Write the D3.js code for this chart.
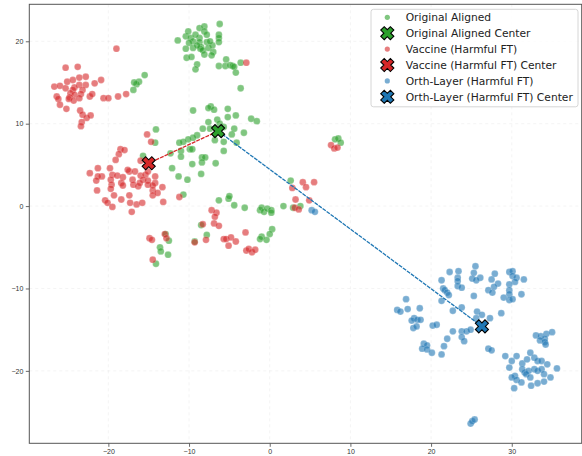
<!DOCTYPE html>
<html>
<head>
<meta charset="utf-8">
<script src="https://cdnjs.cloudflare.com/ajax/libs/d3/7.8.5/d3.min.js"></script>
<style>
  body { margin: 0; background: #fff; }
  svg { display: block; font-family: "DejaVu Sans", sans-serif; }
  .axis text { fill: #333; font-size: 7px; }
  .axis line { stroke: #444; stroke-width: 0.8; }
  .axis path { display: none; }
  .grid line { stroke: #ccc; stroke-opacity: 0.35; stroke-width: 0.6; stroke-dasharray: 3,3; }
</style>
</head>
<body>
<div id="chart"></div>
<script>
// t-SNE embeddings
var origAligned = [
  [-6.2,22.1],[-11.4,20.1],[-10.4,20.6],[-10.1,21.2],[-8.7,21.6],[-8.1,21.8],[-8.1,21.2],[-7.8,20.8],[-6.3,20.8],[-6.3,20.4],
  [-6.3,19.9],[-9.8,20.4],[-9.5,20.0],[-10.0,19.8],[-8.7,20.4],[-8.7,19.9],[-7.8,19.9],[-8.5,19.3],[-8.6,19.1],[-8.3,18.9],
  [-7.6,19.2],[-7.1,19.5],[-9.5,19.2],[-10.4,19.1],[-7.0,18.7],[-7.2,18.3],[-8.1,18.4],[-10.3,18.0],[-9.7,18.1],[-5.4,17.8],
  [-9.0,17.2],[-9.2,16.6],[-6.3,17.0],[-5.5,17.0],[-4.9,17.1],[-4.6,17.0],[-4.4,16.9],[-3.6,17.4],[-4.2,16.2],[-3.6,14.3],
  [-9.2,20.8],[-7.4,20.0],[-9.0,19.5],
  [-15.5,15.9],[-16.2,15.1],[-16.5,14.8],[-16.8,15.0],[-16.9,14.1],[-14.1,9.3],[-14.2,7.7],
  [-7.3,12.1],[-7.6,11.9],[-6.9,11.7],[-9.5,11.6],[-5.2,11.8],[-4.2,11.0],[-2.3,10.6],[-1.6,10.3],[-5.2,10.8],[-7.6,10.2],
  [-6.5,10.5],[-6.2,10.0],[-8.3,9.4],[-7.4,9.4],[-5.7,9.6],[-4.4,9.4],[-4.7,8.7],[-3.2,8.9],[-4.1,7.7],[-5.7,7.8],
  [-6.8,8.0],[-5.7,6.7],[-9.0,8.6],[-9.5,8.3],[-10.1,8.1],[-10.7,7.8],[-11.2,7.7],[-9.9,6.9],[-9.6,6.9],[-11.0,6.7],
  [-11.0,6.0],[-12.3,6.4],[-15.7,6.1],[-8.4,5.9],[-8.0,5.9],[-8.4,5.3],[-9.6,5.1],[-6.7,5.2],[-8.5,3.9],[-12.1,4.6],
  [-11.3,3.6],[-10.2,3.2],[-10.7,1.4],[-6.3,0.7],[-5.1,0.9],[-5.0,1.2],[-4.4,0.1],[-3.1,-0.2],[-1.2,-0.5],[-1.0,-0.2],
  [-0.7,-0.7],[-0.3,-0.3],[0.2,-0.5],[0.2,-0.8],[1.7,0.0],[2.6,3.1],[2.9,-0.2],[3.8,0.0],[8.1,8.1],[8.5,8.2],[8.8,7.7],
  [-8.5,-2.3],[-7.8,-3.5],[-12.9,-3.4],[-12.5,-4.2],[-13.6,-5.0],[-13.5,-5.5],[-12.6,-5.9],[-14.1,-7.0],[-9.3,-4.3],
  [0.3,-2.8],[0.0,-3.4],[-1.0,-3.7],[-1.2,-4.0],[-0.4,-4.1]
];

var vaccine = [
  [-25.3,16.8],[-23.8,16.9],[-26.7,14.5],[-26.0,14.6],[-25.3,14.3],[-25.1,15.1],[-24.4,15.3],[-23.6,15.6],[-22.8,15.7],[-20.9,15.3],
  [-21.7,14.9],[-22.8,14.7],[-23.6,14.7],[-24.2,14.4],[-23.2,14.1],[-23.4,13.6],[-24.4,14.1],[-24.7,13.7],[-24.2,13.5],[-24.8,13.2],
  [-26.4,13.3],[-26.2,13.0],[-24.9,13.0],[-24.3,12.8],[-23.6,13.1],[-22.3,13.3],[-22.0,13.6],[-26.0,12.3],[-25.2,11.8],[-23.5,11.6],
  [-23.2,11.1],[-22.7,10.7],[-22.2,11.0],[-23.3,10.2],[-23.4,9.7],[-20.6,13.1],[-20.0,13.1],[-18.8,13.3],[-17.8,13.6],[-19.0,19.1],
  [-2.9,17.4],[-15.2,8.7],[-14.7,7.8],
  [-18.5,6.9],[-18.0,6.8],[-18.7,6.3],[-19.1,5.6],[-22.3,4.0],[-21.3,4.6],[-20.8,3.6],[-21.3,3.6],[-19.8,4.6],[-19.5,3.8],
  [-18.9,3.7],[-18.2,3.5],[-17.4,4.2],[-16.7,4.2],[-16.0,3.7],[-15.4,3.8],[-15.1,4.2],[-14.2,3.6],[-16.0,5.5],[-17.0,3.2],
  [-16.9,2.6],[-16.3,2.4],[-15.7,3.2],[-15.1,3.1],[-19.7,3.2],[-19.6,2.6],[-19.7,2.1],[-18.4,2.8],[-18.2,2.5],[-21.5,3.1],
  [-21.4,1.9],[-19.3,1.3],[-20.4,0.7],[-20.1,0.4],[-19.5,-0.1],[-18.4,0.8],[-17.4,1.3],[-17.3,0.4],[-16.5,0.2],[-15.8,0.4],
  [-17.1,-0.7],[-14.5,1.9],[-14.5,1.3],[-13.9,1.6],[-13.3,2.3],[-13.2,0.5],[-14.2,2.8],[-15.1,2.6],[-11.2,1.1],[-17.6,4.4],
  [-16.1,2.8],[-14.5,2.5],
  [4.1,2.9],[5.5,2.9],[4.5,2.3],[2.8,2.2],[3.2,0.8],[4.9,0.7],[3.1,-0.2],[3.6,-0.4],[7.6,7.4],[8.0,7.0],[8.4,7.1],
  [-7.2,-0.5],[-6.6,-0.8],[-6.8,-1.3],[-6.9,-2.1],[-6.3,-2.4],[-8.3,-2.2],[-14.9,-3.9],[-14.6,-4.1],[-13.0,-3.4],[-12.8,-3.9],
  [-14.5,-6.5],[-9.3,-4.4],[-7.9,-4.1],[-5.7,-4.0],[-5.4,-4.0],[-4.8,-3.8],[-4.2,-4.3],[-5.1,-4.8],[-3.0,-3.2],[-2.9,-5.4],
  [-2.6,-5.2],[-2.2,-5.6],[-1.8,-5.3]
];

var orthLayer = [
  [25.5,-7.3],[23.4,-7.9],[22.3,-8.0],[25.3,-8.1],[26.1,-8.7],[25.1,-8.8],[25.6,-9.0],[23.3,-8.7],[23.3,-9.1],[21.3,-9.0],
  [23.3,-9.7],[23.8,-9.9],[21.5,-10.0],[21.7,-10.2],[22.0,-10.5],[22.2,-10.8],[21.3,-11.5],[25.3,-10.9],[27.9,-8.2],[27.5,-8.9],
  [28.3,-9.4],[27.8,-9.8],[27.1,-10.2],[27.6,-10.5],[29.7,-8.0],[30.1,-7.9],[30.1,-8.5],[30.6,-8.7],[31.5,-8.9],[30.4,-9.2],
  [29.7,-9.5],[29.7,-10.2],[29.7,-10.7],[29.0,-11.1],[29.7,-11.4],[30.1,-11.3],[31.2,-10.7],
  [16.9,-11.3],[15.8,-12.6],[16.2,-12.8],[17.1,-12.5],[18.6,-12.4],[17.9,-13.6],[17.6,-13.9],[18.3,-13.8],[18.7,-13.8],[17.8,-14.8],
  [18.2,-14.6],[20.2,-14.5],[20.7,-14.4],[23.8,-12.3],[22.7,-12.7],[25.7,-12.8],[26.3,-13.2],[27.3,-13.6],[28.7,-13.0],[25.6,-13.6],
  [23.8,-15.2],[24.4,-15.2],[24.9,-15.0],[22.7,-15.2],[23.8,-15.9],[24.1,-16.4],[22.0,-16.1],[21.6,-17.0],[21.3,-18.0],[19.1,-16.7],
  [19.5,-16.9],[18.9,-17.3],[19.5,-17.4],[20.1,-17.8],[27.1,-17.3],[27.5,-17.5],
  [33.0,-15.7],[33.6,-15.8],[34.3,-15.5],[35.0,-15.3],[34.1,-16.1],[33.5,-16.3],[34.1,-16.5],[34.2,-16.8],
  [29.2,-18.2],[30.0,-18.8],[30.6,-18.2],[31.3,-19.1],[31.9,-18.6],[32.3,-17.8],[32.8,-18.4],[33.2,-18.8],[33.7,-18.8],[34.4,-19.2],
  [29.7,-19.6],[31.3,-19.8],[31.6,-20.2],[32.1,-20.0],[32.8,-19.8],[33.2,-20.0],[33.7,-19.8],[30.4,-20.6],[30.0,-20.8],[31.8,-20.4],
  [32.3,-20.8],[34.0,-20.4],[35.6,-19.7],[34.8,-20.8],[30.6,-21.1],[31.2,-21.4],[32.4,-21.8],[33.2,-21.5],[34.0,-21.3],[30.3,-22.1],
  [24.9,-26.4],[25.1,-26.1],[25.4,-25.9],
  [5.2,-0.5],[5.6,-0.7]
];

var centers = [
  { name: 'Original Aligned', x: -6.4, y: 9.1 },
  { name: 'Vaccine (Harmful FT)', x: -15.0, y: 5.2 },
  { name: 'Orth-Layer (Harmful FT)', x: 26.3, y: -14.6 }
];

var seriesNames = ['Original Aligned', 'Vaccine (Harmful FT)', 'Orth-Layer (Harmful FT)'];
var seriesColors = ['#2ca02c', '#d62728', '#1f77b4'];
var xTicks = [-20, -10, 0, 10, 20, 30];
var yTicks = [-20, -10, 0, 10, 20];

// Sizing
var width = 582, height = 456,
    plot = { left: 29.3, top: 4.3, right: 581.7, bottom: 443.3 };

var x = d3.scaleLinear().domain([-29.8, 38.67]).range([plot.left, plot.right]);
var y = d3.scaleLinear().domain([24.49, -28.79]).range([plot.top, plot.bottom]);

var svg = d3.select('#chart').append('svg')
  .attr('width', width)
  .attr('height', height);

// Grid
var grid = svg.append('g').attr('class', 'grid');
grid.selectAll('.gx').data(xTicks).enter().append('line')
  .attr('x1', function(d){ return x(d); }).attr('x2', function(d){ return x(d); })
  .attr('y1', plot.top).attr('y2', plot.bottom);
grid.selectAll('.gy').data(yTicks).enter().append('line')
  .attr('y1', function(d){ return y(d); }).attr('y2', function(d){ return y(d); })
  .attr('x1', plot.left).attr('x2', plot.right);

// Points
var allSets = [origAligned, vaccine, orthLayer];
allSets.forEach(function(pts, i){
  svg.append('g').selectAll('circle')
    .data(pts).enter().append('circle')
      .attr('cx', function(d){ return x(d[0]); })
      .attr('cy', function(d){ return y(d[1]); })
      .attr('r', 3.4)
      .attr('fill', seriesColors[i])
      .attr('fill-opacity', 0.6)
      .attr('stroke', '#fff')
      .attr('stroke-opacity', 0.5)
      .attr('stroke-width', 0.4);
});

// Shift lines from original center
var lines = svg.append('g');
[1, 2].forEach(function(i){
  lines.append('line')
    .attr('x1', x(centers[0].x)).attr('y1', y(centers[0].y))
    .attr('x2', x(centers[i].x)).attr('y2', y(centers[i].y))
    .attr('stroke', seriesColors[i])
    .attr('stroke-width', 1.3)
    .attr('stroke-dasharray', '4,1');
});

// filled X marker
function xMarker(s){
  var L = s, w = s * 0.36, r = Math.SQRT1_2;
  var pts = [[w,L],[w,w],[L,w],[L,-w],[w,-w],[w,-L],[-w,-L],[-w,-w],[-L,-w],[-L,w],[-w,w],[-w,L]];
  return 'M' + pts.map(function(p){
    return [((p[0] - p[1]) * r).toFixed(2), ((p[0] + p[1]) * r).toFixed(2)].join(',');
  }).join('L') + 'Z';
}

svg.append('g').selectAll('path')
  .data(centers).enter().append('path')
    .attr('d', xMarker(6.8))
    .attr('transform', function(d){ return translate(x(d.x), y(d.y)); })
    .attr('fill', function(d, i){ return seriesColors[i]; })
    .attr('stroke', '#000')
    .attr('stroke-width', 1.1)
    .attr('stroke-linejoin', 'miter');

// Axes
svg.append('g')
  .attr('class', 'axis')
  .attr('transform', translate(0, plot.bottom))
  .call(d3.axisBottom(x).tickValues(xTicks).tickSize(3.5).tickPadding(2.5));

svg.append('g')
  .attr('class', 'axis')
  .attr('transform', translate(plot.left, 0))
  .call(d3.axisLeft(y).tickValues(yTicks).tickSize(3.5).tickPadding(2.5));

// Frame
svg.append('rect')
  .attr('x', plot.left).attr('y', plot.top)
  .attr('width', plot.right - plot.left).attr('height', plot.bottom - plot.top)
  .attr('fill', 'none')
  .attr('stroke', '#555')
  .attr('stroke-width', 1);

// Legend
var legend = svg.append('g').attr('transform', translate(371, 9.3));
legend.append('rect')
  .attr('width', 207).attr('height', 97.5)
  .attr('rx', 2.5)
  .attr('fill', '#fff').attr('fill-opacity', 0.8)
  .attr('stroke', '#ccc').attr('stroke-width', 0.8);

var rows = [];
seriesNames.forEach(function(n, i){
  rows.push({ label: n, kind: 'dot', color: seriesColors[i] });
  rows.push({ label: n + ' Center', kind: 'x', color: seriesColors[i] });
});

var row = legend.selectAll('.row')
  .data(rows).enter().append('g')
    .attr('transform', function(d, i){ return translate(16.3, 8 + i * 15.9); });

row.filter(function(d){ return d.kind === 'dot'; }).append('circle')
  .attr('r', 2.6)
  .attr('fill', function(d){ return d.color; })
  .attr('fill-opacity', 0.6);

row.filter(function(d){ return d.kind === 'x'; }).append('path')
  .attr('d', xMarker(6.8))
  .attr('fill', function(d){ return d.color; })
  .attr('stroke', '#000')
  .attr('stroke-width', 1.1);

row.append('text')
  .attr('x', 18.4)
  .attr('dy', '0.35em')
  .attr('font-size', '10.7px')
  .attr('fill', '#222')
  .text(function(d){ return d.label; });

function translate(x, y){
  return 'translate(' + x + ',' + y + ')';
}
</script>
</body>
</html>
